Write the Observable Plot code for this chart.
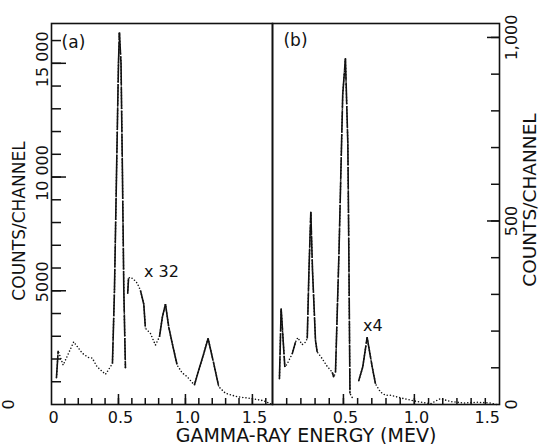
<!DOCTYPE html>
<html><head><meta charset="utf-8">
<script src="https://cdn.jsdelivr.net/npm/d3@7"></script>
<script src="https://cdn.jsdelivr.net/npm/@observablehq/plot@0.6"></script>
<style>
body{margin:0;background:#fff;}
#wrap{position:relative;width:539px;height:444px;overflow:hidden;font-family:"DejaVu Sans",sans-serif;color:#000;background:#fff;}
#wrap svg{position:absolute;top:0;overflow:visible;}
.t{position:absolute;white-space:nowrap;line-height:1;transform:translate(-50%,-50%);}
.r{transform:translate(-50%,-50%) rotate(-90deg);}
</style></head><body><div id="wrap"></div>
<script>
// ---------- Panel (a): gamma-ray energy (MeV) vs counts/channel ----------
const aEnergy = [0.037, 0.050, 0.087, 0.166, 0.229, 0.274, 0.304, 0.340, 0.403, 0.440, 0.455, 0.470, 0.485, 0.500, 0.507, 0.519, 0.530, 0.540, 0.552];
const aCounts = [1175, 2360, 1730, 2755, 2260, 2070, 2040, 1660, 1325, 1660, 1800, 5000, 10000, 15000, 16350, 15000, 10000, 5000, 1600];
// part of spectrum (a) shown multiplied by 32
const a32Energy = [0.569, 0.575, 0.590, 0.614, 0.640, 0.664, 0.689, 0.701, 0.739, 0.776, 0.806, 0.828, 0.851, 0.875, 0.901, 0.938, 0.975, 1.013, 1.067, 1.099, 1.137, 1.169, 1.211, 1.249, 1.299, 1.386, 1.485, 1.584, 1.640];
const a32Counts = [4890, 5550, 5600, 5500, 5330, 5020, 4410, 3355, 3120, 2610, 2975, 3850, 4410, 3410, 2700, 1730, 1395, 1220, 855, 1510, 2245, 2900, 1810, 780, 490, 340, 270, 165, 20];

// ---------- Panel (b) ----------
const bEnergy = [0.049, 0.061, 0.087, 0.104, 0.139, 0.162, 0.178, 0.209, 0.233, 0.245, 0.257, 0.270, 0.282, 0.303, 0.315, 0.350, 0.385, 0.421, 0.432, 0.444, 0.469, 0.495, 0.514, 0.531, 0.538, 0.546, 0.566];
const bCounts = [70, 261, 102, 111, 138, 170, 182, 163, 170, 180, 365, 524, 365, 175, 143, 125, 104, 88, 74, 88, 420, 845, 942, 711, 420, 30, 16];
// part of spectrum (b) shown multiplied by 4
const b4Energy = [0.608, 0.636, 0.667, 0.703, 0.726, 0.761, 0.796, 0.832, 0.925, 1.020, 1.113, 1.184, 1.254, 1.348, 1.443, 1.536, 1.579];
const b4Counts = [65, 102, 183, 102, 56, 34, 25, 25, 16, 8, 2, 16, 8, 4, 6, 4, 0];

// ---------- Axes ----------
const aXLabelValues = [0, 0.5, 1.0, 1.5];
const aXLabels = ["0", "0.5", "1.0", "1.5"];
const bXLabelValues = [0.5, 1.0, 1.5];
const bXLabels = ["0.5", "1.0", "1.5"];
const aYLabelValues = [0, 5000, 10000, 15000];
const aYLabels = ["0", "5000", "10 000", "15 000"];
const bYLabelValues = [0, 500, 1000];
const bYLabels = ["0", "500", "1,000"];

// ---------- Annotations ----------
const aNotes = [{e: 0.164, c: 15900, text: "(a)", size: 17}, {e: 0.821, c: 5810, text: "x 32", size: 16}];
const bNotes = [{e: 0.162, c: 992, text: "(b)", size: 17}, {e: 0.708, c: 215, text: "x4", size: 16}];

const FONT = '"DejaVu Sans", sans-serif';
const INK = "#111";
const PH = 444, MT = 23, MB = 40;
const FRAMEH = PH - MT - MB; // frame height in px
const rng = (a, b, s) => d3.range(Math.round(a / s), Math.round(b / s) + 1).map(i => +(i * s).toFixed(6));

function pts(E, C) { return E.map((e, i) => ({e, c: C[i]})); }
function steep(E, C, thr) {
  const out = [];
  for (let i = 0; i < E.length - 1; i++) {
    const s = Math.abs((C[i + 1] - C[i]) / (E[i + 1] - E[i]));
    if (s > thr) out.push({e1: E[i], c1: C[i], e2: E[i + 1], c2: C[i + 1]});
  }
  return out;
}
function curve(E, C, thr) {
  return [
    Plot.line(pts(E, C), {x: "e", y: "c", stroke: INK, strokeWidth: 1.6, strokeDasharray: "0,3.2", strokeLinecap: "round"}),
    Plot.link(steep(E, C, thr), {x1: "e1", y1: "c1", x2: "e2", y2: "c2", stroke: INK, strokeWidth: 1.6, strokeDasharray: "22,1.6"})
  ];
}
function notes(N) {
  return N.map(n => Plot.text([n], {x: "e", y: "c", text: "text", fontSize: n.size, fill: INK}));
}
const fmt = (vals, labs) => d => labs[vals.findIndex(v => Math.abs(v - d) < 1e-9)];

// inward ticks drawn as tick marks inset to the given pixel length
const tickBottom = (ticks, len) => Plot.tickX(ticks, {x: d => d, insetTop: FRAMEH - len, stroke: INK, strokeWidth: 1.5});
const tickLeft = (ticks, len, fw) => Plot.tickY(ticks, {y: d => d, insetRight: fw - len, stroke: INK, strokeWidth: 1.5});
const tickRight = (ticks, len, fw) => Plot.tickY(ticks, {y: d => d, insetLeft: fw - len, stroke: INK, strokeWidth: 1.5});

// tick labels as text marks anchored to the frame
const xLabels = (vals, labs) => Plot.text(vals, {x: d => d, text: fmt(vals, labs), frameAnchor: "bottom", lineAnchor: "top", dy: 7, dx: 2, fontSize: 16, fill: INK});
const yLabelsLeft = (vals, allVals, labs, dx, dy) => Plot.text(vals, {y: d => d, text: fmt(allVals, labs), frameAnchor: "left", rotate: -90, textAnchor: "middle", lineAnchor: "bottom", dx, dy, fontSize: 16, fill: INK});
const yLabelsRight = (vals, labs) => Plot.text(vals, {y: d => d, text: fmt(vals, labs), frameAnchor: "right", rotate: -90, textAnchor: "middle", lineAnchor: "top", dx: 6, fontSize: 16, fill: INK});

const plotStyle = {fontFamily: FONT, fontSize: "16px", color: INK, background: "transparent", overflow: "visible"};

const AW = 272, AML = 51, AMR = 0, AFW = AW - AML - AMR;
const plotA = Plot.plot({
  width: AW, height: PH, marginLeft: AML, marginRight: AMR, marginTop: MT, marginBottom: MB,
  x: {domain: [0, 1.65], axis: null}, y: {domain: [0, 16750], axis: null},
  style: plotStyle,
  marks: [
    tickBottom(rng(0.1, 1.6, 0.1), 6),
    tickBottom([0.5, 1.0, 1.5], 10),
    tickLeft(rng(1000, 16000, 1000), 10, AFW),
    tickLeft([5000, 10000, 15000], 15, AFW),
    ...curve(aEnergy, aCounts, 17500),
    ...curve(a32Energy, a32Counts, 17500),
    xLabels(aXLabelValues, aXLabels),
    yLabelsLeft([10000, 15000], aYLabelValues, aYLabels, -4, -4),
    yLabelsLeft([5000], aYLabelValues, aYLabels, -4, -9),
    yLabelsLeft([0], aYLabelValues, aYLabels, -38, 0),
    ...notes(aNotes),
    Plot.frame({stroke: INK, strokeWidth: 1.6})
  ]
});

const BW = 267, BML = 0, BMR = 40, BFW = BW - BML - BMR;
const plotB = Plot.plot({
  width: BW, height: PH, marginLeft: BML, marginRight: BMR, marginTop: MT, marginBottom: MB,
  x: {domain: [0, 1.6], axis: null}, y: {domain: [0, 1038], axis: null},
  style: plotStyle,
  marks: [
    tickBottom(rng(0.1, 1.5, 0.1), 6),
    tickBottom([0.5, 1.0], 10),
    tickRight(rng(100, 1000, 100), 8, BFW),
    tickRight([500, 1000], 12, BFW),
    ...curve(bEnergy, bCounts, 1200),
    ...curve(b4Energy, b4Counts, 1200),
    xLabels(bXLabelValues, bXLabels),
    yLabelsRight(bYLabelValues, bYLabels),
    ...notes(bNotes),
    Plot.frame({stroke: INK, strokeWidth: 1.6})
  ]
});

const wrap = document.getElementById("wrap");
plotA.style.left = "0px";
plotB.style.left = AW + "px";
wrap.appendChild(plotA);
wrap.appendChild(plotB);

function addText(txt, x, y, size, rot) {
  const d = document.createElement("div");
  d.className = "t" + (rot ? " r" : "");
  d.textContent = txt;
  d.style.left = x + "px"; d.style.top = y + "px"; d.style.fontSize = size + "px"; d.style.color = INK;
  wrap.appendChild(d);
}
addText("GAMMA-RAY ENERGY (MEV)", 306, 435, 19, false);
addText("COUNTS/CHANNEL", 19, 221, 17, true);
addText("COUNTS/CHANNEL", 530, 200, 18.5, true);
</script></body></html>
